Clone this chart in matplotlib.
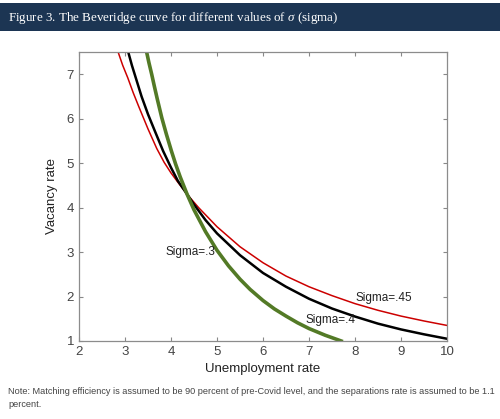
#!/usr/bin/env python3

import matplotlib
matplotlib.use("Agg")
import matplotlib.pyplot as plt
from matplotlib.patches import Rectangle

# values (unemployment rate, vacancy rate)
u_45 = [2.85, 2.95, 3.06, 3.18, 3.3, 3.5, 3.69, 3.85, 4.0, 4.15, 4.35, 4.6, 5.0, 5.5, 6.0, 6.5, 7.0, 7.5, 8.0, 8.5, 9.0, 9.5, 10.0]
v_45 = [7.5, 7.2, 6.92, 6.58, 6.27, 5.77, 5.33, 5.02, 4.78, 4.57, 4.3, 4.0, 3.57, 3.12, 2.76, 2.46, 2.22, 2.02, 1.84, 1.69, 1.56, 1.45, 1.35]

u_40 = [3.07, 3.15, 3.24, 3.36, 3.5, 3.65, 3.83, 4.0, 4.15, 4.35, 4.5, 4.75, 5.0, 5.5, 6.0, 6.5, 7.0, 7.5, 8.0, 8.5, 9.0, 9.5, 10.0]
v_40 = [7.5, 7.2, 6.9, 6.5, 6.1, 5.72, 5.27, 4.9, 4.6, 4.3, 4.07, 3.72, 3.42, 2.93, 2.53, 2.22, 1.95, 1.73, 1.55, 1.39, 1.26, 1.15, 1.05]

u_30 = [3.47, 3.52, 3.58, 3.64, 3.7, 3.8, 3.9, 4.01, 4.1, 4.2, 4.35, 4.5, 4.75, 5.0, 5.25, 5.5, 5.72, 6.0, 6.25, 6.5, 6.75, 7.0, 7.35, 7.7]
v_30 = [7.5, 7.26, 7.0, 6.72, 6.45, 6.02, 5.65, 5.27, 4.98, 4.69, 4.3, 3.95, 3.46, 3.04, 2.69, 2.39, 2.16, 1.91, 1.72, 1.56, 1.41, 1.28, 1.13, 1.0]

sigma_labels = ["Sigma=.3", "Sigma=.4", "Sigma=.45"]
label_pos = [(3.87, 3.0), (6.93, 1.47), (8.02, 1.97)]

title = "Figure 3. The Beveridge curve for different values of $\\sigma$ (sigma)"
note = ("Note: Matching efficiency is assumed to be 90 percent of pre-Covid level, "
        "and the separations rate is assumed to be 1.1\npercent.")


def main():
    plt.rcParams["font.family"] = ["Liberation Sans", "DejaVu Sans"]
    plt.rcParams["mathtext.fontset"] = "custom"
    plt.rcParams["mathtext.rm"] = "Liberation Serif"
    plt.rcParams["mathtext.it"] = "Liberation Serif:italic"

    fig = plt.figure(figsize=(5.0, 4.19), dpi=100)

    # header band
    fig.patches.append(Rectangle((0, 1 - 31 / 419), 1, 28 / 419, transform=fig.transFigure,
                                 facecolor="#1c3553", edgecolor="none"))
    fig.text(0.016, 1 - 17.5 / 419, title, color="white", fontsize=9.4,
             family=["Liberation Serif", "DejaVu Serif"], va="center", ha="left")

    ax = fig.add_axes([0.158, 0.1862, 0.736, 0.6897])
    ax.plot(u_45, v_45, color="#cc0000", lw=1.1)
    ax.plot(u_40, v_40, color="black", lw=1.8)
    ax.plot(u_30, v_30, color="#537a26", lw=2.6)

    for txt, (x, y) in zip(sigma_labels, label_pos):
        ax.text(x, y, txt, fontsize=8.5, ha="left", va="center", color="#222222")

    ax.set_xlim(2, 10)
    ax.set_ylim(1, 7.5)
    ax.set_xticks(range(2, 11))
    ax.set_yticks(range(1, 8))
    ax.tick_params(direction="in", top=True, right=True, length=3, width=0.8,
                   colors="#888888", labelcolor="#444444", labelsize=9.5)
    for sp in ax.spines.values():
        sp.set_color("#8c8c8c")
        sp.set_linewidth(0.9)
    ax.set_xlabel("Unemployment rate", fontsize=9.5, color="#222222", labelpad=4)
    ax.set_ylabel("Vacancy rate", fontsize=9.5, color="#222222", labelpad=6)

    fig.text(0.016, 1 - 398 / 419, note, fontsize=6.6, color="#444444",
             ha="left", va="center", linespacing=1.5)

    fig.savefig("out.png", dpi=100)
    plt.close(fig)


if __name__ == "__main__":
    main()
